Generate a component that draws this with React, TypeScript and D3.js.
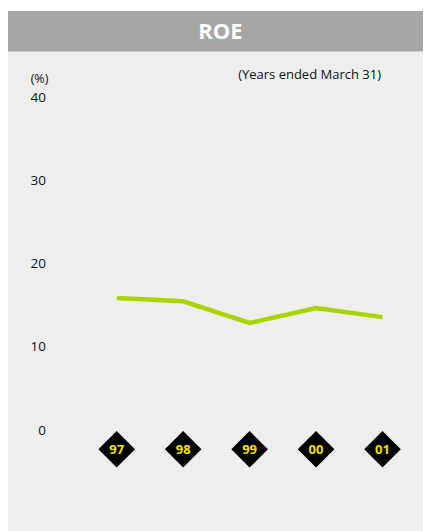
import React from "react";
import * as d3 from "d3";

const years = ["97", "98", "99", "00", "01"];
const roe = [15.8, 15.4, 12.8, 14.6, 13.5];
const yTicks = [0, 10, 20, 30, 40];

const W = 423;
const H = 523;
const FONT = "'Open Sans', 'Noto Sans', sans-serif";

export default function App() {
  const x = d3.scalePoint<string>().domain(years).range([108.7, 374.5]);
  const y = d3.scaleLinear().domain([0, 40]).range([421.5, 88.5]);
  const line = d3
    .line<number>()
    .x((_, i) => x(years[i]) as number)
    .y((d) => y(d));
  const diamondY = 441.3;
  const half = 18.3;

  return (
    <svg width={W} height={H} style={{ display: "block" }} fontFamily={FONT}>
      <rect x={0} y={3} width={W} height={40.7} fill="#a6a6a6" />
      <rect x={0} y={43.7} width={W} height={H - 43.7} fill="#eeeeee" />
      <text x={212.5} y={21.5} textAnchor="middle" dominantBaseline="central" fill="#ffffff" fontWeight="bold" fontSize={22}>
        ROE
      </text>
      <text x={373} y={66} textAnchor="end" dominantBaseline="central" fill="#111" fontSize={13}>
        (Years ended March 31)
      </text>
      <text x={31.5} y={70.5} textAnchor="middle" dominantBaseline="central" fill="#111" fontSize={12.5}>
        (%)
      </text>
      {yTicks.map((t) => (
        <text key={t} x={38} y={y(t)} textAnchor="end" dominantBaseline="central" fill="#111" fontSize={13.5}>
          {t}
        </text>
      ))}
      <path d={line(roe) || ""} fill="none" stroke="#a8d500" strokeWidth={4.5} strokeLinejoin="miter" />
      {years.map((yr) => {
        const cx = x(yr) as number;
        return (
          <g key={yr}>
            <path
              d={`M${cx},${diamondY - half}L${cx + half},${diamondY}L${cx},${diamondY + half}L${cx - half},${diamondY}Z`}
              fill="#000"
            />
            <text x={cx} y={diamondY} textAnchor="middle" dominantBaseline="central" fill="#f2e000" fontWeight="bold" fontSize={13}>
              {yr}
            </text>
          </g>
        );
      })}
    </svg>
  );
}
